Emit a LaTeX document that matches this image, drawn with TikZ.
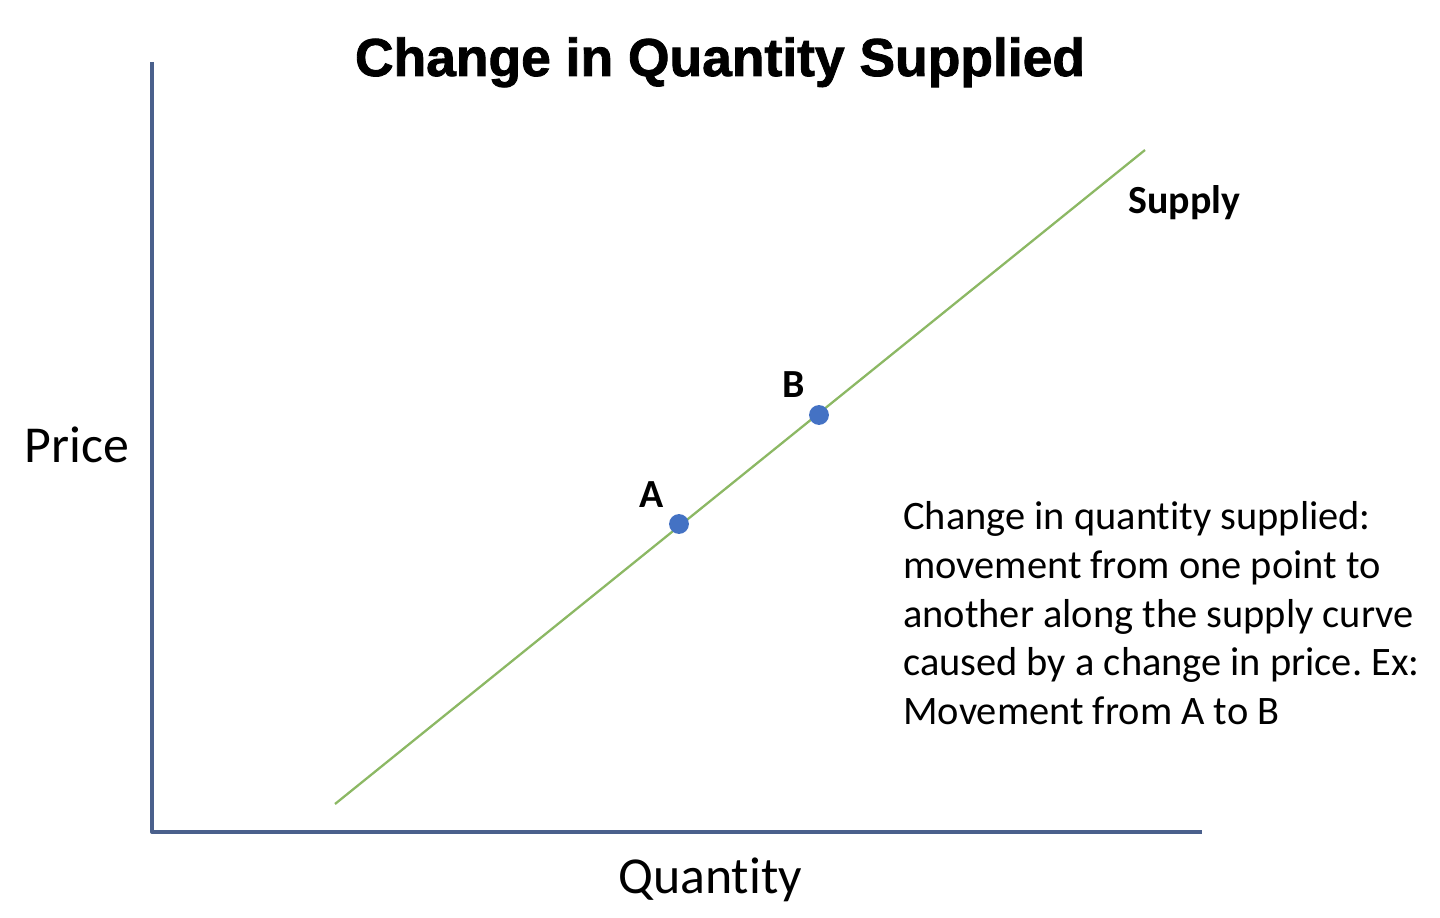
\documentclass[tikz,border=0pt]{standalone}
\usepackage{fontspec}
\setmainfont{Carlito}[Ligatures={NoCommon,NoContextual},Contextuals=NoAlternate]
\newfontfamily\titlefont{Liberation Sans}[BoldFeatures={FakeBold=1.6}]
\usetikzlibrary{positioning}
\definecolor{axisblue}{RGB}{74,96,140}
\definecolor{supplygreen}{RGB}{140,184,100}
\definecolor{dotblue}{RGB}{68,114,196}
\frenchspacing

\begin{document}
\begin{tikzpicture}[x=0.02cm,
                    y=-0.02cm,
                    axis/.style={draw=axisblue,line width=2.3pt,line join=round},
                    curve/.style={draw=supplygreen,line width=1.3pt},
                    pt/.style={circle,fill=dotblue,inner sep=0pt,minimum size=11.3pt},
                    lbl/.style={inner sep=0pt,font=\fontsize{22.7}{27}\selectfont\bfseries},
                    axlbl/.style={inner sep=0pt,font=\fontsize{29.5}{35}\selectfont}
                    ]
\useasboundingbox (0,0) rectangle (1440,918);
% title
  \node (title) [anchor=base,inner sep=0pt] at (720,76) {\titlefont\fontsize{30.4}{36}\selectfont\bfseries Change in Quantity Supplied};

% axes
  \coordinate (ytop) at (152,62);
  \coordinate (xend) at (1202,832);
  \draw[axis] (ytop) |- (xend);
  \node[axlbl] (price) [anchor=base west] at (24,463) {Price};
  \node[axlbl] (qty) [anchor=base] at (710,893) {Quantity};

% supply curve
  \coordinate (s0) at (335,804);
  \coordinate (s1) at (1145,150);
  \draw[curve] (s0) -- (s1);
  \node[lbl] (supply) [anchor=base west] at (1128,214) {Supply};

  \node[pt] (A) at (679,524) {};
  \node[pt] (B) at (819,415) {};
  \node[lbl] (la) [above left=5pt and 4.5pt of A] {A};
  \node[lbl] (lb) [above left=5.5pt and 3.5pt of B] {B};

% note
  \node (note) [anchor=north west,inner sep=0pt,align=left,font=\fontsize{23}{27.8}\selectfont] at (903,501)
    {Change in quantity supplied:\\movement from one point to\\another along the supply curve\\caused by a change in price. Ex:\\Movement from A to B};
\end{tikzpicture}
\end{document}
